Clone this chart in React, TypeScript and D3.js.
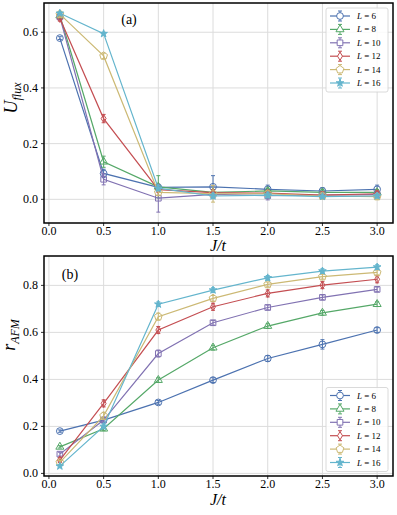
import { useEffect, useRef } from 'react';
import * as d3 from 'd3';

const jt = [0.1, 0.5, 1.0, 1.5, 2.0, 2.5, 3.0];
const sizes = ['6', '8', '10', '12', '14', '16'];
const colors = ['#4C72B0', '#55A868', '#8172B2', '#C44E52', '#CCB974', '#64B5CD'];

// panel (a): U_flux
const fluxL6 = [0.579, 0.093, 0.043, 0.045, 0.036, 0.03, 0.036];
const fluxL8 = [0.66, 0.135, 0.045, 0.025, 0.03, 0.025, 0.025];
const fluxL10 = [0.655, 0.072, 0.004, 0.018, 0.013, 0.015, 0.017];
const fluxL12 = [0.65, 0.29, 0.035, 0.024, 0.022, 0.015, 0.02];
const fluxL14 = [0.665, 0.515, 0.025, 0.02, 0.02, 0.012, 0.01];
const fluxL16 = [0.668, 0.595, 0.04, 0.012, 0.015, 0.01, 0.012];
const fluxErrL6 = [0.005, 0.015, 0.005, 0.04, 0.015, 0.012, 0.015];
const fluxErrL8 = [0.01, 0.02, 0.04, 0.01, 0.01, 0.01, 0.01];
const fluxErrL10 = [0.01, 0.02, 0.05, 0.01, 0.015, 0.01, 0.01];
const fluxErrL12 = [0.01, 0.015, 0.01, 0.01, 0.01, 0.012, 0.01];
const fluxErrL14 = [0.01, 0.01, 0.01, 0.03, 0.01, 0.01, 0.01];
const fluxErrL16 = [0.005, 0.005, 0.01, 0.01, 0.01, 0.008, 0.008];

// panel (b): r_AFM
const afmL6 = [0.18, 0.227, 0.302, 0.397, 0.489, 0.549, 0.61];
const afmL8 = [0.113, 0.19, 0.397, 0.535, 0.627, 0.683, 0.72];
const afmL10 = [0.082, 0.227, 0.51, 0.641, 0.706, 0.749, 0.783];
const afmL12 = [0.057, 0.298, 0.61, 0.709, 0.766, 0.801, 0.826];
const afmL14 = [0.047, 0.245, 0.667, 0.745, 0.804, 0.837, 0.855];
const afmL16 = [0.031, 0.2, 0.72, 0.78, 0.832, 0.861, 0.878];
const afmErrL6 = [0.005, 0.008, 0.008, 0.01, 0.012, 0.02, 0.01];
const afmErrL8 = [0.005, 0.008, 0.01, 0.01, 0.01, 0.01, 0.01];
const afmErrL10 = [0.008, 0.01, 0.015, 0.01, 0.01, 0.01, 0.01];
const afmErrL12 = [0.01, 0.015, 0.015, 0.015, 0.015, 0.015, 0.015];
const afmErrL14 = [0.008, 0.015, 0.015, 0.012, 0.01, 0.01, 0.01];
const afmErrL16 = [0.005, 0.01, 0.01, 0.01, 0.01, 0.01, 0.01];

const xTicks = [0, 0.5, 1.0, 1.5, 2.0, 2.5, 3.0];
const fluxTicks = [0, 0.2, 0.4, 0.6];
const afmTicks = [0, 0.2, 0.4, 0.6, 0.8];

const pentagon = {
  draw(ctx: any, size: number) {
    const r = Math.sqrt(size / 2.4);
    for (let i = 0; i < 5; i++) {
      const a = -Math.PI / 2 + (i * 2 * Math.PI) / 5;
      if (i === 0) ctx.moveTo(r * Math.cos(a), r * Math.sin(a));
      else ctx.lineTo(r * Math.cos(a), r * Math.sin(a));
    }
    ctx.closePath();
  },
};
const thinDiamond = {
  draw(ctx: any, size: number) {
    const r = Math.sqrt(size) * 0.62;
    ctx.moveTo(0, -r);
    ctx.lineTo(r * 0.6, 0);
    ctx.lineTo(0, r);
    ctx.lineTo(-r * 0.6, 0);
    ctx.closePath();
  },
};
const markers: any[] = [d3.symbolCircle, d3.symbolTriangle, d3.symbolSquare, thinDiamond, pentagon, d3.symbolStar];
const markerSize = [36, 28, 32, 44, 40, 18];
const font = 'Liberation Serif, Times New Roman, serif';

const App = () => {
  const ref = useRef<SVGSVGElement>(null);

  useEffect(() => {
    const svg = d3.select(ref.current);
    svg.selectAll('*').remove();

    const left = 44;
    const right = 393;
    const x = d3.scaleLinear().domain([-0.045, 3.145]).range([left, right]);

    const panels = [
      {
        top: 3, bottom: 223, domain: [-0.085, 0.705], ticks: fluxTicks,
        vals: [fluxL6, fluxL8, fluxL10, fluxL12, fluxL14, fluxL16],
        errs: [fluxErrL6, fluxErrL8, fluxErrL10, fluxErrL12, fluxErrL14, fluxErrL16],
        tag: '(a)', tagX: 129, tagY: 24, xlabY: 251,
        legTop: 8, ylab: ['U', 'flux'], ylabY: 98, ylabX: 17,
      },
      {
        top: 256, bottom: 476, domain: [-0.011, 0.925], ticks: afmTicks,
        vals: [afmL6, afmL8, afmL10, afmL12, afmL14, afmL16],
        errs: [afmErrL6, afmErrL8, afmErrL10, afmErrL12, afmErrL14, afmErrL16],
        tag: '(b)', tagX: 70, tagY: 279, xlabY: 505,
        legTop: 387.5, ylab: ['r', 'AFM'], ylabY: 335, ylabX: 15,
      },
    ];

    panels.forEach((p) => {
      const y = d3.scaleLinear().domain(p.domain).range([p.bottom, p.top]);
      const g = svg.append('g');

      // grid
      g.selectAll('.gx').data(xTicks).join('line')
        .attr('x1', (d) => x(d)).attr('x2', (d) => x(d))
        .attr('y1', p.top).attr('y2', p.bottom)
        .attr('stroke', '#dcdcdc').attr('stroke-width', 1);
      g.selectAll('.gy').data(p.ticks).join('line')
        .attr('x1', left).attr('x2', right)
        .attr('y1', (d) => y(d)).attr('y2', (d) => y(d))
        .attr('stroke', '#dcdcdc').attr('stroke-width', 1);

      // series
      const line = d3.line<number>().x((_, i) => x(jt[i])).y((d) => y(d));
      p.vals.forEach((vals, s) => {
        const c = colors[s];
        const sg = g.append('g');
        sg.append('path').datum(vals).attr('d', line)
          .attr('fill', 'none').attr('stroke', c).attr('stroke-width', 1.2);
        vals.forEach((v, i) => {
          const e = p.errs[s][i];
          const cx = x(jt[i]);
          sg.append('line').attr('x1', cx).attr('x2', cx)
            .attr('y1', y(v - e)).attr('y2', y(v + e))
            .attr('stroke', c).attr('stroke-width', 1);
          [v - e, v + e].forEach((yy) => {
            sg.append('line').attr('x1', cx - 2).attr('x2', cx + 2)
              .attr('y1', y(yy)).attr('y2', y(yy))
              .attr('stroke', c).attr('stroke-width', 1);
          });
          sg.append('path')
            .attr('d', d3.symbol(markers[s], markerSize[s])())
            .attr('transform', `translate(${cx},${y(v)})`)
            .attr('fill', s === 5 ? c : 'none')
            .attr('stroke', c).attr('stroke-width', 1);
        });
      });

      // frame
      g.append('rect').attr('x', left).attr('y', p.top)
        .attr('width', right - left).attr('height', p.bottom - p.top)
        .attr('fill', 'none').attr('stroke', '#000').attr('stroke-width', 1.5);

      // ticks and labels
      g.selectAll('.tx').data(xTicks).join('line')
        .attr('x1', (d) => x(d)).attr('x2', (d) => x(d))
        .attr('y1', p.bottom).attr('y2', p.bottom + 3)
        .attr('stroke', '#000').attr('stroke-width', 0.8);
      g.selectAll('.lx').data(xTicks).join('text')
        .attr('x', (d) => x(d)).attr('y', p.bottom + 12)
        .attr('text-anchor', 'middle').style('font-family', font).attr('font-size', 12)
        .text((d) => d.toFixed(1));
      g.selectAll('.ty').data(p.ticks).join('line')
        .attr('x1', left - 3).attr('x2', left)
        .attr('y1', (d) => y(d)).attr('y2', (d) => y(d))
        .attr('stroke', '#000').attr('stroke-width', 0.8);
      g.selectAll('.ly').data(p.ticks).join('text')
        .attr('x', left - 6).attr('y', (d) => y(d) + 4)
        .attr('text-anchor', 'end').style('font-family', font).attr('font-size', 12)
        .text((d) => d.toFixed(1));

      // axis labels
      g.append('text').attr('x', 218).attr('y', p.xlabY)
        .attr('text-anchor', 'middle').style('font-family', font).attr('font-size', 16)
        .attr('font-style', 'italic').text('J/t');

      const yl = g.append('text')
        .attr('transform', `translate(${p.ylabX},${p.ylabY}) rotate(-90)`)
        .attr('text-anchor', 'middle').style('font-family', font).attr('font-style', 'italic');
      yl.append('tspan').attr('font-size', 18).text(p.ylab[0]);
      yl.append('tspan').attr('font-size', 12).attr('dy', 4).text(p.ylab[1]);

      g.append('text').attr('x', p.tagX).attr('y', p.tagY)
        .attr('text-anchor', 'middle').style('font-family', font).attr('font-size', 14)
        .text(p.tag);

      // legend
      const lg = g.append('g');
      lg.append('rect').attr('x', 326).attr('y', p.legTop).attr('width', 62).attr('height', 84)
        .attr('rx', 2).attr('fill', 'white').attr('fill-opacity', 0.85)
        .attr('stroke', '#d0d0d0').attr('stroke-width', 0.8);
      sizes.forEach((L, s) => {
        const ly = p.legTop + 8 + s * 13.4;
        const c = colors[s];
        lg.append('line').attr('x1', 330).attr('x2', 350).attr('y1', ly).attr('y2', ly)
          .attr('stroke', c).attr('stroke-width', 1.2);
        lg.append('line').attr('x1', 340).attr('x2', 340).attr('y1', ly - 5).attr('y2', ly + 5)
          .attr('stroke', c).attr('stroke-width', 1);
        [ly - 5, ly + 5].forEach((yy) => {
          lg.append('line').attr('x1', 338).attr('x2', 342).attr('y1', yy).attr('y2', yy)
            .attr('stroke', c).attr('stroke-width', 1);
        });
        lg.append('path').attr('d', d3.symbol(markers[s], markerSize[s])())
          .attr('transform', `translate(340,${ly})`)
          .attr('fill', s === 5 ? c : 'white').attr('stroke', c).attr('stroke-width', 1);
        const t = lg.append('text').attr('x', 357).attr('y', ly + 3)
          .style('font-family', font).attr('font-size', 9);
        t.append('tspan').attr('font-style', 'italic').text('L');
        t.append('tspan').text(` = ${L}`);
      });
    });
  }, []);

  return (
    <svg ref={ref} width={397} height={515}
      style={{ position: 'absolute', left: 0, top: 0, background: 'white' }} />
  );
};

export default App;
